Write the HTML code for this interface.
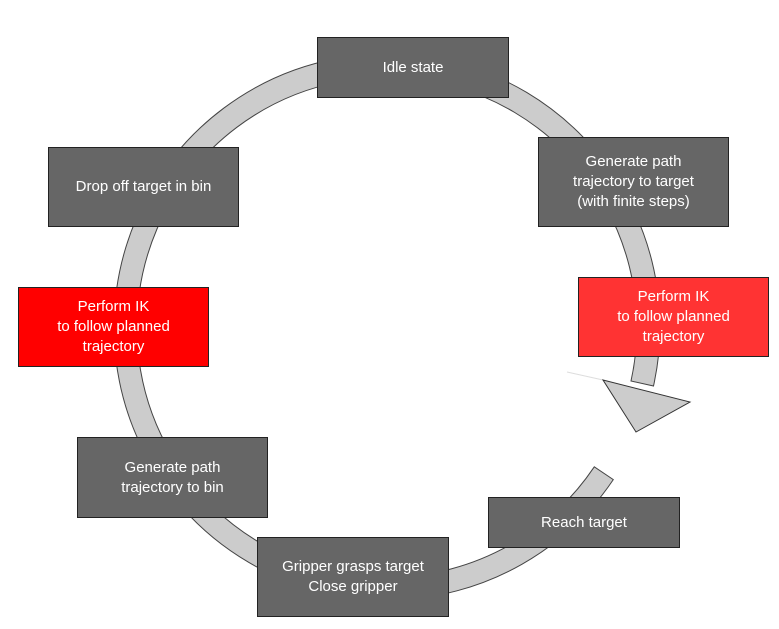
<!DOCTYPE html>
<html><head><style>
body{margin:0;background:#fff;width:779px;height:629px;overflow:hidden;position:relative;font-family:"Liberation Sans",sans-serif}
.b{position:absolute;box-sizing:border-box;border:1px solid #222;background:#666;color:#fff;font-size:15px;line-height:20px;display:flex;align-items:center;justify-content:center;text-align:center}
svg{position:absolute;left:0;top:0}
</style></head><body>
<svg width="779" height="629">
<path d="M613.3,479.6 A273,273 0 1 1 653.5,386.0 L631,381 A250,250 0 1 0 594.3,466.8 Z" fill="#cccccc" stroke="#444" stroke-width="1"/>
<line x1="567" y1="372" x2="603" y2="380" stroke="#ddd" stroke-width="1"/>
<polygon points="603,380 690,402 636,432" fill="#cccccc" stroke="#333" stroke-width="1"/>
</svg>
<div class="b" style="left:317px;top:37px;width:192px;height:61px">Idle state</div>
<div class="b" style="left:538px;top:137px;width:191px;height:90px">Generate path<br>trajectory to target<br>(with finite steps)</div>
<div class="b" style="left:578px;top:277px;width:191px;height:80px;background:#ff3333">Perform IK<br>to follow planned<br>trajectory</div>
<div class="b" style="left:488px;top:497px;width:192px;height:51px">Reach target</div>
<div class="b" style="left:257px;top:537px;width:192px;height:80px">Gripper grasps target<br>Close gripper</div>
<div class="b" style="left:77px;top:437px;width:191px;height:81px">Generate path<br>trajectory to bin</div>
<div class="b" style="left:18px;top:287px;width:191px;height:80px;background:#ff0000">Perform IK<br>to follow planned<br>trajectory</div>
<div class="b" style="left:48px;top:147px;width:191px;height:80px">Drop off target in bin</div>
</body></html>
